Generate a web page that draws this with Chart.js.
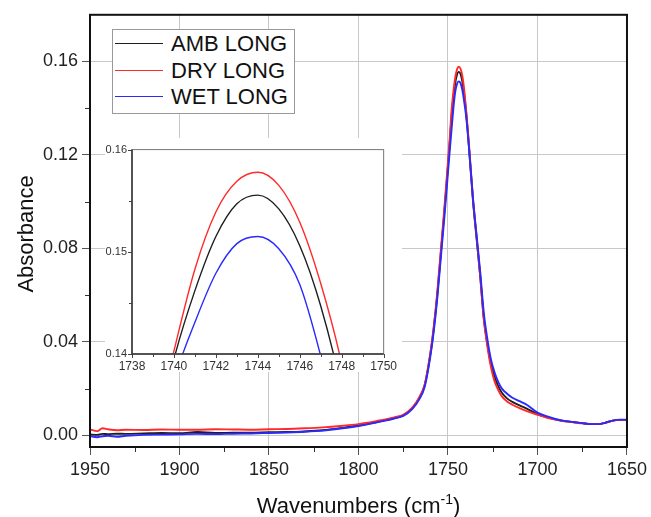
<!DOCTYPE html>
<html>
<head>
<meta charset="utf-8">
<script src="https://cdn.jsdelivr.net/npm/chart.js@4.4.0/dist/chart.umd.min.js"></script>
<style>
  html, body { margin: 0; padding: 0; background: #fff; }
  #wrap { position: relative; width: 651px; height: 517px; font-family: "Liberation Sans", Arial, sans-serif; }
  #main { position: absolute; left: 0; top: 0; }
  #inset { position: absolute; left: 105px; top: 138px; background: #fff; }
  #legend { position: absolute; left: 112px; top: 29px; width: 181px; height: 83px; border: 1px solid #999; background: #fff; }
  #legend .row { position: absolute; left: 0; width: 181px; height: 26px; }
  #legend .swatch { position: absolute; left: 2px; top: 12px; width: 48px; height: 0; border-top: 1.6px solid #000; }
  #legend .txt { position: absolute; left: 58px; top: 0; font-size: 22px; line-height: 26px; color: #111; white-space: nowrap; }
</style>
</head>
<body>
<div id="wrap">
  <canvas id="main" width="651" height="517"></canvas>
  <div id="legend"></div>
  <canvas id="inset" width="297" height="234"></canvas>
</div>
<script>
// wavenumbers (cm-1)
var wavenumbers = [1950,1946,1943,1940,1935,1930,1920,1910,1900,1890,1880,1870,1860,1850,1840,1830,1820,1810,1800,
  1795,1790,1785,1780,1775,1770,1766,1763,1760,1758,1756,1754,1752,1750,
  1749,1748,1747,1746,1745,1744,1743,1742,1741,1740,1739,1738,
  1736,1734,1732,1730,1728,1726,1724,1722,1720,1717,1714,1710,1706,1700,
  1695,1690,1685,1680,1675,1670,1666,1662,1658,1654,1650];

var ambLong = [0.0004,0.0002,0.0006,0.0005,0.0007,0.0006,0.0008,0.0010,0.0009,0.0014,0.0010,0.0011,0.0011,0.0013,0.0014,0.0017,0.0022,0.0031,0.0042,
  0.0049,0.0057,0.0065,0.0074,0.0085,0.0115,0.0160,0.0215,0.0340,0.0455,0.0600,0.0780,0.0960,0.1155,
  0.1255,0.1365,0.1447,0.1506,0.1542,0.15555,0.1547,0.1515,0.1462,0.1395,0.1305,0.1205,
  0.1000,0.0840,0.0680,0.0500,0.0390,0.0305,0.0250,0.0212,0.0183,0.0158,0.0143,0.0128,0.0114,0.0091,
  0.0078,0.0068,0.0061,0.0057,0.0052,0.0048,0.0048,0.0054,0.0063,0.0066,0.0066];

var dryLong = [0.0025,0.0018,0.0030,0.0026,0.0022,0.0024,0.0023,0.0025,0.0024,0.0024,0.0026,0.0025,0.0024,0.0026,0.0027,0.0030,0.0034,0.0040,0.0048,
  0.0054,0.0061,0.0068,0.0077,0.0088,0.0118,0.0163,0.0218,0.0345,0.0462,0.0610,0.0792,0.0975,0.1172,
  0.1275,0.1390,0.1469,0.1529,0.1565,0.15778,0.1569,0.1539,0.1483,0.1403,0.1315,0.1218,
  0.1010,0.0848,0.0682,0.0498,0.0382,0.0292,0.0232,0.0195,0.0168,0.0145,0.0131,0.0116,0.0104,0.0088,
  0.0076,0.0067,0.0060,0.0056,0.0051,0.0048,0.0048,0.0054,0.0063,0.0066,0.0066];

var wetLong = [-0.0003,-0.0008,-0.0004,-0.0002,-0.0006,-0.0002,0.0002,0.0003,0.0004,0.0006,0.0005,0.0007,0.0008,0.0010,0.0012,0.0015,0.0020,0.0029,0.0040,
  0.0047,0.0055,0.0063,0.0072,0.0083,0.0112,0.0155,0.0208,0.0330,0.0442,0.0585,0.0760,0.0935,0.1125,
  0.1220,0.1310,0.1398,0.1468,0.1503,0.15150,0.1508,0.1479,0.1431,0.1375,0.1298,0.1205,
  0.1010,0.0855,0.0700,0.0525,0.0412,0.0325,0.0270,0.0230,0.0201,0.0178,0.0161,0.0146,0.0131,0.0097,
  0.0082,0.0070,0.0062,0.0057,0.0052,0.0048,0.0048,0.0054,0.0063,0.0067,0.0067];

var seriesNames  = ['AMB LONG', 'DRY LONG', 'WET LONG'];
var seriesColors = ['#1e1e1e', '#ff2a2a', '#2a2aff'];

var xTicks      = [1950, 1900, 1850, 1800, 1750, 1700, 1650];
var xMinorTicks = [1925, 1875, 1825, 1775, 1725, 1675];
var yTicks      = [0, 0.04, 0.08, 0.12, 0.16];
var yMinorTicks = [0.02, 0.06, 0.10, 0.14];

var insetXTicks      = [1738, 1740, 1742, 1744, 1746, 1748, 1750];
var insetXMinorTicks = [1739, 1741, 1743, 1745, 1747, 1749];
var insetYTicks      = [0.14, 0.15, 0.16];
var insetYMinorTicks = [0.145, 0.155];

var FONT = '"Liberation Sans", Arial, sans-serif';

function toPoints(ys) {
  return wavenumbers.map(function (x, i) { return { x: x, y: ys[i] }; });
}

function makeDatasets(width) {
  return [ambLong, dryLong, wetLong].map(function (ys, i) {
    return {
      label: seriesNames[i],
      data: toPoints(ys),
      borderColor: seriesColors[i],
      borderWidth: width,
      pointRadius: 0,
      cubicInterpolationMode: 'monotone',
      fill: false
    };
  }).reverse(); // draw black on top
}

// minor ticks + frame
var frameTicks = {
  id: 'frameTicks',
  afterDatasetsDraw: function (chart, args, o) {
    var ctx = chart.ctx, a = chart.chartArea;
    var xs = chart.scales.x, ys = chart.scales.y;
    ctx.save();
    ctx.lineWidth = 1;
    ctx.strokeStyle = o.tickColor;
    ctx.beginPath();
    (o.xMajor || []).forEach(function (v) {
      var p = Math.round(xs.getPixelForValue(v)) + 0.5;
      ctx.moveTo(p, a.bottom); ctx.lineTo(p, a.bottom + o.majorLen);
    });
    (o.xMinor || []).forEach(function (v) {
      var p = Math.round(xs.getPixelForValue(v)) + 0.5;
      ctx.moveTo(p, a.bottom); ctx.lineTo(p, a.bottom + o.minorLen);
    });
    (o.yMajor || []).forEach(function (v) {
      var p = Math.round(ys.getPixelForValue(v)) + 0.5;
      ctx.moveTo(a.left, p); ctx.lineTo(a.left - o.majorLen, p);
    });
    (o.yMinor || []).forEach(function (v) {
      var p = Math.round(ys.getPixelForValue(v)) + 0.5;
      ctx.moveTo(a.left, p); ctx.lineTo(a.left - o.minorLen, p);
    });
    ctx.stroke();
    // frame
    ctx.strokeStyle = o.frameColor;
    ctx.lineWidth = o.frameWidth;
    ctx.strokeRect(a.left, a.top, a.right - a.left, a.bottom - a.top);
    if (o.axisColor) {
      ctx.strokeStyle = o.axisColor;
      ctx.lineWidth = o.axisWidth;
      ctx.beginPath();
      ctx.moveTo(a.left, a.top); ctx.lineTo(a.left, a.bottom); ctx.lineTo(a.right, a.bottom);
      ctx.stroke();
    }
    ctx.restore();
  }
};

// axis titles, x title has a superscript
var axisTitles = {
  id: 'axisTitles',
  afterDraw: function (chart, args, o) {
    var ctx = chart.ctx, a = chart.chartArea;
    ctx.save();
    ctx.fillStyle = '#111';
    // y title
    ctx.font = o.size + 'px ' + FONT;
    ctx.translate(o.yTitleX, (a.top + a.bottom) / 2 + 3);
    ctx.rotate(-Math.PI / 2);
    ctx.textAlign = 'center';
    ctx.textBaseline = 'alphabetic';
    ctx.fillText(o.yTitle, 0, 0);
    ctx.restore();

    ctx.save();
    ctx.fillStyle = '#111';
    ctx.textBaseline = 'alphabetic';
    ctx.textAlign = 'left';
    var big = o.size + 'px ' + FONT, small = Math.round(o.size * 0.62) + 'px ' + FONT;
    ctx.font = big;
    var w1 = ctx.measureText(o.xTitle[0]).width, w3 = ctx.measureText(o.xTitle[2]).width;
    ctx.font = small;
    var w2 = ctx.measureText(o.xTitle[1]).width;
    var x0 = (a.left + a.right) / 2 - (w1 + w2 + w3) / 2;
    ctx.font = big;
    ctx.fillText(o.xTitle[0], x0, o.xTitleY);
    ctx.font = small;
    ctx.fillText(o.xTitle[1], x0 + w1, o.xTitleY - o.size * 0.42);
    ctx.font = big;
    ctx.fillText(o.xTitle[2], x0 + w1 + w2, o.xTitleY);
    ctx.restore();
  }
};

new Chart(document.getElementById('main').getContext('2d'), {
  type: 'line',
  data: { datasets: makeDatasets(1.9) },
  plugins: [frameTicks, axisTitles],
  options: {
    responsive: false,
    animation: false,
    devicePixelRatio: 1,
    layout: { padding: { left: 0, top: 14, right: 22, bottom: 0 } },
    plugins: {
      legend: { display: false },
      tooltip: { enabled: false },
      frameTicks: { tickColor: '#333', majorLen: 0, minorLen: 5, xMinor: xMinorTicks, yMinor: yMinorTicks,
                    frameColor: '#111', frameWidth: 2 },
      axisTitles: { size: 22, yTitle: 'Absorbance', yTitleX: 33, xTitle: ['Wavenumbers (cm', '-1', ')'], xTitleY: 513 }
    },
    scales: {
      x: {
        type: 'linear', reverse: true, min: 1650, max: 1950,
        afterBuildTicks: function (s) { s.ticks = xTicks.map(function (v) { return { value: v }; }); },
        afterFit: function (s) { s.height = 70; },
        grid: { color: '#c8c8c8', tickColor: '#555', tickLength: 8, lineWidth: 1 },
        border: { display: false },
        ticks: { font: { size: 18, family: FONT }, color: '#222', padding: 4, maxRotation: 0, autoSkip: false,
                 callback: function (v) { return String(v); } }
      },
      y: {
        type: 'linear', min: -0.005, max: 0.18,
        afterBuildTicks: function (s) { s.ticks = yTicks.map(function (v) { return { value: v }; }); },
        afterFit: function (s) { s.width = 90; },
        grid: { color: '#c8c8c8', tickColor: '#555', tickLength: 8, lineWidth: 1 },
        border: { display: false },
        ticks: { font: { size: 18, family: FONT }, color: '#222', padding: 4, autoSkip: false,
                 callback: function (v) { return v.toFixed(2); } }
      }
    }
  }
});

// zoomed inset around the peak
new Chart(document.getElementById('inset').getContext('2d'), {
  type: 'line',
  data: { datasets: makeDatasets(1.4) },
  plugins: [frameTicks],
  options: {
    responsive: false,
    animation: false,
    devicePixelRatio: 1,
    layout: { padding: { left: 0, top: 11, right: 15, bottom: 0 } },
    plugins: {
      legend: { display: false },
      tooltip: { enabled: false },
      frameTicks: { tickColor: '#444', majorLen: 4, minorLen: 3,
                    xMajor: insetXTicks, xMinor: insetXMinorTicks, yMajor: insetYTicks, yMinor: insetYMinorTicks,
                    frameColor: '#777', frameWidth: 1, axisColor: '#333', axisWidth: 1.5 }
    },
    scales: {
      x: {
        type: 'linear', min: 1738, max: 1750,
        afterBuildTicks: function (s) { s.ticks = insetXTicks.map(function (v) { return { value: v }; }); },
        afterFit: function (s) { s.height = 18; },
        grid: { display: false, drawTicks: false },
        border: { display: false },
        ticks: { font: { size: 12, family: FONT }, color: '#333', padding: 5, maxRotation: 0, autoSkip: false,
                 callback: function (v) { return String(v); } }
      },
      y: {
        type: 'linear', min: 0.14, max: 0.16,
        afterBuildTicks: function (s) { s.ticks = insetYTicks.map(function (v) { return { value: v }; }); },
        afterFit: function (s) { s.width = 27; },
        grid: { display: false, drawTicks: false },
        border: { display: false },
        ticks: { font: { size: 11, family: FONT }, color: '#333', padding: 5, autoSkip: false,
                 callback: function (v) { return v.toFixed(2); } }
      }
    }
  }
});

// legend box
var legend = document.getElementById('legend');
seriesNames.forEach(function (name, i) {
  var row = document.createElement('div');
  row.className = 'row';
  row.style.top = (1 + i * 26.7) + 'px';
  var sw = document.createElement('div');
  sw.className = 'swatch';
  sw.style.borderTopColor = seriesColors[i];
  var t = document.createElement('div');
  t.className = 'txt';
  t.textContent = name;
  row.appendChild(sw);
  row.appendChild(t);
  legend.appendChild(row);
});
</script>
</body>
</html>
